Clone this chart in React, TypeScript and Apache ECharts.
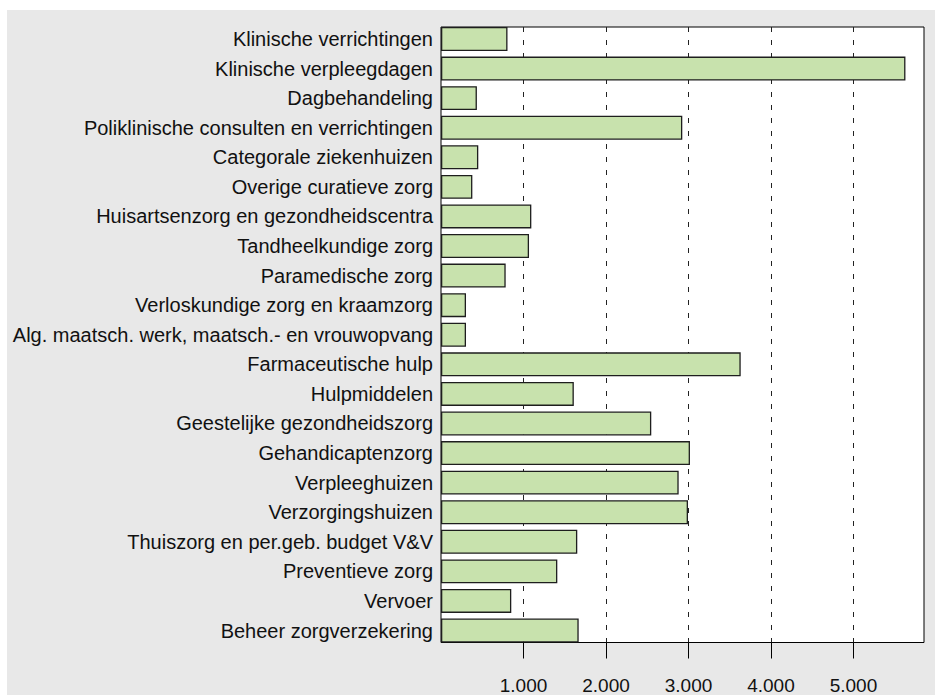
import React, { useEffect, useRef } from "react";
import * as echarts from "echarts";

const categories = [
  "Klinische verrichtingen",
  "Klinische verpleegdagen",
  "Dagbehandeling",
  "Poliklinische consulten en verrichtingen",
  "Categorale ziekenhuizen",
  "Overige curatieve zorg",
  "Huisartsenzorg en gezondheidscentra",
  "Tandheelkundige zorg",
  "Paramedische zorg",
  "Verloskundige zorg en kraamzorg",
  "Alg. maatsch. werk, maatsch.- en vrouwopvang",
  "Farmaceutische hulp",
  "Hulpmiddelen",
  "Geestelijke gezondheidszorg",
  "Gehandicaptenzorg",
  "Verpleeghuizen",
  "Verzorgingshuizen",
  "Thuiszorg en per.geb. budget V&V",
  "Preventieve zorg",
  "Vervoer",
  "Beheer zorgverzekering",
];

const values = [
  806, 5630, 435, 2925, 452, 380, 1095, 1067, 784, 303, 303, 3633, 1610, 2549,
  3018, 2881, 2994, 1652, 1410, 852, 1669,
];

const tickValues = [1000, 2000, 3000, 4000, 5000];
const axisMax = 5855;

const FONT = "'Liberation Sans', Arial, Helvetica, sans-serif";

export default function App() {
  const ref = useRef<HTMLDivElement>(null);
  useEffect(() => {
    if (!ref.current) return;
    const chart = echarts.init(ref.current, undefined, { renderer: "svg" });
    chart.setOption({
      animation: false,
      backgroundColor: "#e8e8e8",
      grid: [
        { left: 434, right: 11, top: 14.2, bottom: 49.7, show: false },
        {
          left: 434,
          right: 11,
          top: 17,
          bottom: 52.5,
          show: true,
          backgroundColor: "#ffffff",
          borderColor: "#000000",
          borderWidth: 1,
          z: -1,
        },
      ],
      xAxis: [
        { gridIndex: 0, type: "value", min: 0, max: axisMax, show: false },
        {
          gridIndex: 1,
          type: "value",
          min: 0,
          max: axisMax,
          interval: 1000,
          axisLine: { show: false },
          axisTick: {
            show: true,
            inside: false,
            length: 16,
            lineStyle: { color: "#000", width: 1 },
            customValues: tickValues,
          },
          axisLabel: {
            margin: 33,
            fontSize: 19,
            fontFamily: FONT,
            color: "#111",
            customValues: tickValues,
            formatter: (v: number) =>
              v === 0 ? "" : v.toLocaleString("de-DE"),
          },
          splitLine: {
            show: true,
            lineStyle: { color: "#222", width: 1, type: [5, 8] },
          },
        },
      ],
      yAxis: [
        {
          gridIndex: 0,
          type: "category",
          data: categories,
          inverse: true,
          axisLine: { show: false },
          axisTick: { show: false },
          axisLabel: {
            margin: 8,
            fontSize: 20,
            fontFamily: FONT,
            color: "#111",
          },
        },
        { gridIndex: 1, type: "value", min: 0, max: 1, show: false },
      ],
      series: [
        {
          type: "bar",
          xAxisIndex: 0,
          yAxisIndex: 0,
          data: values,
          barCategoryGap: "19%",
          itemStyle: {
            color: "#c8e2ad",
            borderColor: "#1e1e1e",
            borderWidth: 1.3,
          },
        },
        { type: "bar", xAxisIndex: 1, yAxisIndex: 1, data: [] },
      ],
    });
    return () => chart.dispose();
  }, []);
  return (
    <div
      ref={ref}
      style={{
        position: "fixed",
        left: 7,
        top: 10,
        width: 928,
        height: 685,
      }}
    />
  );
}
